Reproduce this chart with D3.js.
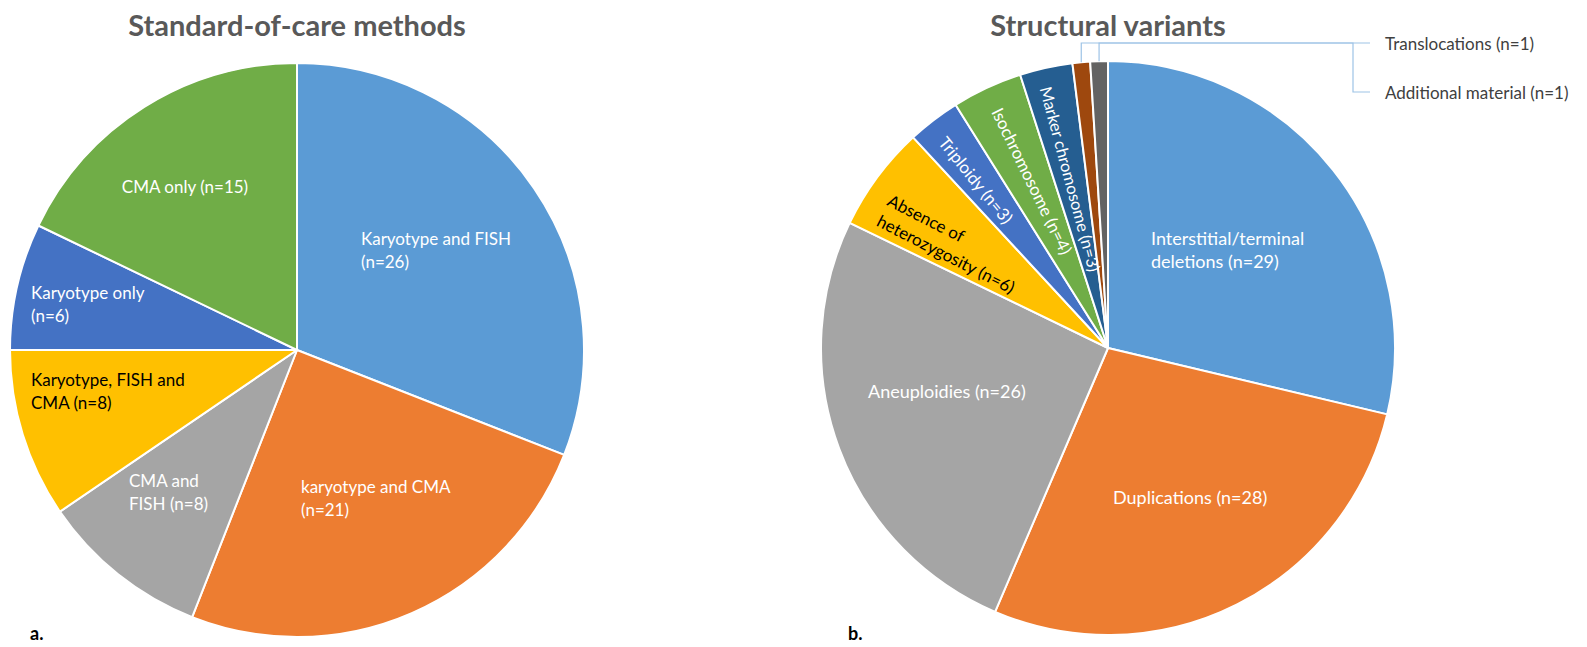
<!DOCTYPE html>
<html>
<head>
<meta charset="utf-8">
<script src="https://cdn.jsdelivr.net/npm/d3@7/dist/d3.min.js"></script>
<style>
  html, body { margin: 0; padding: 0; background: #fff; }
  svg { display: block; }
  text { font-family: Lato, "Open Sans", sans-serif; }
</style>
</head>
<body>
<svg id="chart" width="1587" height="647"></svg>
<script>
// ---- Data ----
const methodNames = ["Karyotype and FISH\n", "karyotype and CMA\n", "CMA and\nFISH ", "Karyotype, FISH and\nCMA ", "Karyotype only\n", "CMA only "];
const methodCounts = [26, 21, 8, 8, 6, 15];

const variantNames = ["Interstitial/terminal\ndeletions ", "Duplications ", "Aneuploidies ", "Absence of\nheterozygosity ", "Triploidy ", "Isochromosome ", "Marker chromosome ", "Translocations ", "Additional material "];
const variantCounts = [29, 28, 26, 6, 3, 4, 3, 1, 1];

const titles = ["Standard-of-care methods", "Structural variants"];
const panelTags = ["a.", "b."];

// ---- Styling / layout ----
const palette = ["#5B9BD5", "#ED7D31", "#A5A5A5", "#FFC000", "#4472C4", "#70AD47", "#255E91", "#9E480E", "#636363"];
const R = 287;
const lineGap = 23;

const svg = d3.select("#chart");

// label placement, relative to each pie's centre
const methodLabelLayout = [
  { x: 64, y: -112, anchor: "start", size: 17 },
  { x: 4, y: 136, anchor: "start", size: 17 },
  { x: -168, y: 130, anchor: "start", size: 17 },
  { x: -266, y: 29, anchor: "start", size: 17, dark: true },
  { x: -266, y: -58, anchor: "start", size: 17 },
  { x: -112, y: -164, anchor: "middle", size: 17 }
];
const variantLabelLayout = [
  { x: 43, y: -110, anchor: "start", size: 18 },
  { x: 5, y: 149, anchor: "start", size: 18 },
  { x: -240, y: 43, anchor: "start", size: 18 },
  { x: -219, y: -149, anchor: "start", rot: 27, size: 17, dark: true },
  { x: -132, y: -168, anchor: "middle", rot: 51, size: 17 },
  { x: -76, y: -167, anchor: "middle", rot: 64, size: 17 },
  { x: -38, y: -169, anchor: "middle", rot: 75, size: 16.5 },
  { callout: true },
  { callout: true }
];

function labelLines(name, n) {
  return (name + "(n=" + n + ")").split("\n");
}

function drawPie(cx, cy, names, counts, layout, title) {
  const g = svg.append("g").attr("transform", `translate(${cx},${cy})`);
  const pie = d3.pie().sort(null).value(d => d)(counts);
  const arc = d3.arc().innerRadius(0).outerRadius(R);

  g.selectAll("path.slice")
    .data(pie)
    .join("path")
    .attr("class", "slice")
    .attr("d", arc)
    .attr("fill", (d, i) => palette[i])
    .attr("stroke", "#fff")
    .attr("stroke-width", 2)
    .attr("stroke-linejoin", "round");

  svg.append("text")
    .attr("x", cx)
    .attr("y", 36)
    .attr("text-anchor", "middle")
    .attr("font-size", 29)
    .attr("font-weight", 700)
    .attr("fill", "#595959")
    .text(title);

  pie.forEach((d, i) => {
    const L = layout[i];
    if (L.callout) return;
    const lines = labelLines(names[i], counts[i]);
    const t = g.append("text")
      .attr("transform", `translate(${L.x},${L.y}) rotate(${L.rot || 0})`)
      .attr("text-anchor", L.anchor)
      .attr("font-size", L.size)
      .attr("fill", L.dark ? "#000" : "#fff");
    lines.forEach((s, k) => {
      t.append("tspan")
        .attr("x", 0)
        .attr("y", k * lineGap)
        .attr("dominant-baseline", "central")
        .text(s);
    });
  });
  return { g, pie };
}

// panel a
drawPie(297, 350, methodNames, methodCounts, methodLabelLayout, titles[0]);

// panel b
const right = drawPie(1108, 348, variantNames, variantCounts, variantLabelLayout, titles[1]);

// callouts for the two smallest variant slices
const calloutY = [-305, -256];   // relative to pie centre
const calloutElbow = 245;
const calloutEnd = 262;
const leader = "#9DC3E6";
[7, 8].forEach((idx, k) => {
  const d = right.pie[idx];
  const mid = (d.startAngle + d.endAngle) / 2;
  const px = R * Math.sin(mid);
  const py = -R * Math.cos(mid);
  const yTop = calloutY[0];
  const pts = k === 0
    ? [[px, py], [px, yTop], [calloutEnd, yTop]]
    : [[px, py], [px, yTop], [calloutElbow, yTop], [calloutElbow, calloutY[1]], [calloutEnd, calloutY[1]]];
  right.g.append("path")
    .attr("d", d3.line()(pts))
    .attr("fill", "none")
    .attr("stroke", leader)
    .attr("stroke-width", 1.2);
  right.g.append("text")
    .attr("x", calloutEnd + 15)
    .attr("y", calloutY[k])
    .attr("dominant-baseline", "central")
    .attr("font-size", 17)
    .attr("fill", "#404040")
    .text(labelLines(variantNames[idx], variantCounts[idx]).join(""));
});

// panel tags
svg.selectAll("text.tag")
  .data(panelTags)
  .join("text")
  .attr("class", "tag")
  .attr("x", (d, i) => i === 0 ? 30 : 848)
  .attr("y", 640)
  .attr("font-size", 18)
  .attr("font-weight", 700)
  .attr("fill", "#000")
  .text(d => d);
</script>
</body>
</html>
